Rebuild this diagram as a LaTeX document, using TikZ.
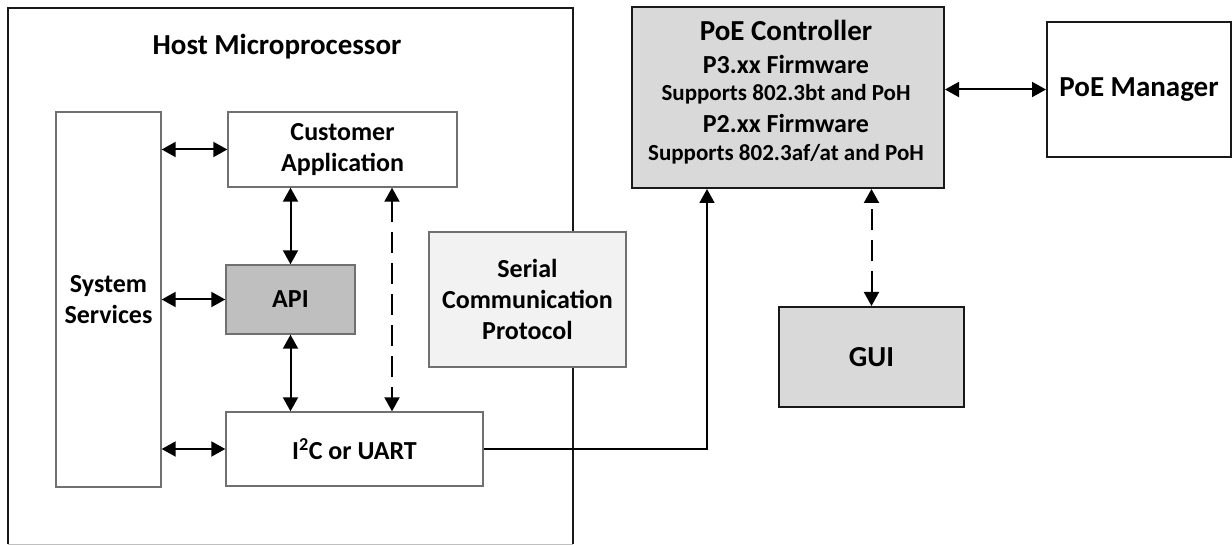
\documentclass[tikz,border=0pt]{standalone}
\usepackage{fontspec}
\setmainfont{Carlito}
\usetikzlibrary{arrows.meta,calc}
\definecolor{apifill}{HTML}{BFBFBF}
\definecolor{serfill}{HTML}{F2F2F2}
\definecolor{ctlfill}{HTML}{D9D9D9}
\definecolor{innerline}{HTML}{707070}
\tikzset{
  inner/.style={draw=innerline, line width=1.4pt, fill=white, minimum width=#1, inner sep=0pt, align=center, font=\fontsize{26}{31}\selectfont\bfseries},
  outer/.style={draw=black!90, line width=2pt, inner sep=0pt, align=center, font=\fontsize{29}{34}\selectfont\bfseries},
  conn/.style={line width=2pt, {Triangle[length=14pt,width=15pt]}-{Triangle[length=14pt,width=15pt]}},
  oneway/.style={line width=2pt, -{Triangle[length=14pt,width=15pt]}},
  dashconn/.style={conn, dash pattern=on 21pt off 10pt},
  txt/.style={inner sep=0pt, align=center, font=\bfseries}
}
\begin{document}
\begin{tikzpicture}[x=1pt,y=-1pt]
\useasboundingbox (0,0) rectangle (1232,545);
% host
\node[minimum width=565pt, minimum height=536pt, inner sep=0pt] (host) at (290.5,276) {};
\draw[line width=2pt, black!90] (host.south west) -- (host.north west) -- (host.north east) -- (host.south east);
\draw[line width=1.4pt, black!25] (host.south west) -- (host.south east);
\node[txt, font=\fontsize{29}{34}\selectfont\bfseries] (htitle) at (277,47) {Host Microprocessor};
% inner boxes
\node[inner=105pt, minimum height=375pt] (ss) at (108.5,299.5) {System\\Services};
\node[inner=229pt, minimum height=75pt] (ca) at (342.5,149.5) {Customer\\Application};
\node[inner=129pt, minimum height=69pt, fill=apifill] (api) at (290.5,299.5) {API};
\node[inner=257pt, minimum height=74pt] (i2c) at (354.5,449) {I\textsuperscript{2}C or UART};
\node[inner=197pt, minimum height=135pt, fill=serfill] (ser) at (527.5,299.5) {Serial\\Communication\\Protocol};
% right side
\node[outer, minimum width=312pt, minimum height=181pt, fill=ctlfill] (ctl) at (788,97.5) {};
\node[txt, font=\fontsize{29}{34}\selectfont\bfseries] (ct0) at (786,30) {PoE Controller};
\node[txt, font=\fontsize{26}{31}\selectfont\bfseries] (ct1) at (786,64) {P3.xx Firmware};
\node[txt, font=\fontsize{23}{28}\selectfont\bfseries] (ct2) at (786,94) {Supports 802.3bt and PoH};
\node[txt, font=\fontsize{26}{31}\selectfont\bfseries] (ct3) at (786,123) {P2.xx Firmware};
\node[txt, font=\fontsize{23}{28}\selectfont\bfseries] (ct4) at (786,154) {Supports 802.3af/at and PoH};
\node[outer, minimum width=184pt, minimum height=135pt, fill=white] (mgr) at (1139,89.5) {PoE Manager};
\node[outer, minimum width=185pt, minimum height=100pt, fill=ctlfill] (gui) at (871.5,357) {GUI};
% connectors
\draw[conn] (ca.west -| ss.east) -- (ca.west);
\draw[conn] (ss.east) -- (api.west);
\draw[conn] (i2c.west -| ss.east) -- (i2c.west);
\draw[conn] (api.north) -- (api.north |- ca.south);
\draw[conn] (api.south) -- (api.south |- i2c.north);
\draw[dashconn] ([xshift=49.5pt]ca.south) -- ([xshift=49.5pt]ca.south |- i2c.north);
\draw[oneway, line width=1.8pt] (i2c.east) -| ([xshift=-81pt]ctl.south);
\draw[dashconn] (gui.north) -- (gui.north |- ctl.south);
\draw[conn] (mgr.west -| ctl.east) -- (mgr.west);
\end{tikzpicture}
\end{document}
